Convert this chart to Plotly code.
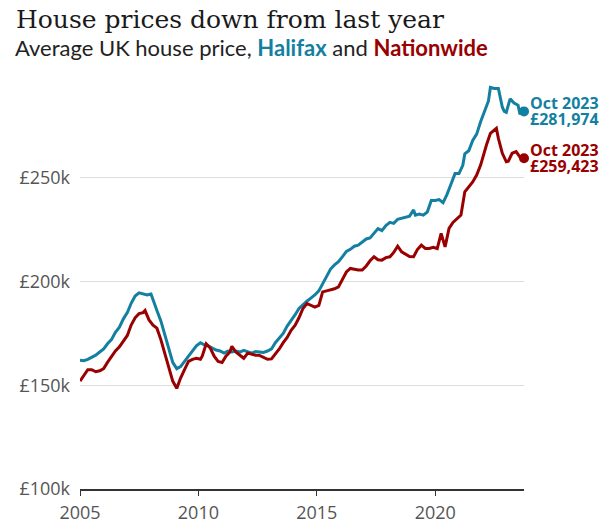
import plotly.graph_objects as go

# ---- data (values in £ thousands) ----
halifax_dates = ["2005-01","2005-03","2005-05","2005-07","2005-09","2005-11",
"2006-01","2006-03","2006-05","2006-07","2006-09","2006-11",
"2007-01","2007-03","2007-05","2007-07","2007-09","2007-11",
"2008-01","2008-02","2008-04","2008-06","2008-08","2008-10","2008-12",
"2009-02","2009-04","2009-06","2009-08","2009-10","2009-12",
"2010-02","2010-04","2010-06","2010-08","2010-10","2010-12",
"2011-02","2011-04","2011-06","2011-08","2011-10","2011-12",
"2012-02","2012-04","2012-06","2012-08","2012-10","2012-12",
"2013-02","2013-04","2013-06","2013-08","2013-10","2013-12",
"2014-02","2014-04","2014-06","2014-08","2014-10","2014-12",
"2015-02","2015-04","2015-06","2015-08","2015-10","2015-12",
"2016-02","2016-04","2016-06","2016-08","2016-10","2016-12",
"2017-02","2017-04","2017-06","2017-08","2017-10","2017-12",
"2018-02","2018-04","2018-06","2018-08","2018-10","2018-12",
"2019-02","2019-03","2019-05","2019-07","2019-09","2019-11",
"2020-01","2020-03","2020-05","2020-07","2020-09","2020-11",
"2021-01","2021-03","2021-04","2021-06","2021-08","2021-10","2021-12",
"2022-02","2022-04","2022-05","2022-07","2022-09","2022-10","2022-11","2022-12",
"2023-01","2023-02","2023-03","2023-05","2023-07","2023-08","2023-09","2023-10"]
halifax_values = [162.0,161.8,162.5,163.5,164.5,166,
167.5,170,172,175.5,178,182,
185,189.5,193,194.5,194,193.5,
194,191,186,181,174,167,161,
158,159,161.5,164,166.5,169,
170.5,169.5,169,168,167,166.5,
165.5,166.5,166,166.5,166,166.8,
166,165.5,166.2,166,165.8,166.5,
167.5,170.5,172.5,175,178.5,181,
184,187,189,190.5,192,193.5,
195.5,199,203,206,208,209.5,
212,214.5,215.5,217,217.5,219,
220.5,221,223,225.5,224.5,227,
228.5,228,230,230.5,231,231.5,
234.5,232,232.5,232,233.5,239,
239,239.5,238,242,247,252,
252,256,261.5,263,268,271,277,
282,287,293.5,293,293,288,284,282,
281.5,285,288,286,285,280.5,283,281.974]

nationwide_dates = ["2005-01","2005-03","2005-05","2005-07","2005-09","2005-11",
"2006-01","2006-03","2006-05","2006-07","2006-09","2006-11",
"2007-01","2007-03","2007-05","2007-07","2007-09","2007-10","2007-12",
"2008-02","2008-04","2008-06","2008-08","2008-10","2008-12",
"2009-02","2009-04","2009-06","2009-08","2009-10","2009-12",
"2010-02","2010-03","2010-05","2010-07","2010-09","2010-11",
"2011-01","2011-03","2011-05","2011-06","2011-08","2011-10","2011-12",
"2012-02","2012-04","2012-06","2012-08","2012-10","2012-12",
"2013-02","2013-04","2013-06","2013-08","2013-10","2013-12",
"2014-02","2014-04","2014-06","2014-08","2014-10","2014-12",
"2015-02","2015-04","2015-06","2015-08","2015-10","2015-12",
"2016-02","2016-04","2016-06","2016-08","2016-10","2016-12",
"2017-02","2017-04","2017-06","2017-08","2017-10","2017-12",
"2018-02","2018-04","2018-06","2018-08","2018-10","2018-12",
"2019-02","2019-04","2019-06","2019-08","2019-10","2019-12",
"2020-02","2020-04","2020-06","2020-08","2020-10","2020-12",
"2021-02","2021-04","2021-06","2021-08","2021-10","2021-12",
"2022-03","2022-05","2022-08","2022-09","2022-11",
"2023-01","2023-02","2023-04","2023-06","2023-08","2023-09","2023-10"]
nationwide_values = [152,155,157.5,157.5,156.5,157,
158,161,164,166.5,168.5,171.5,
174,179,182.5,184.5,185,186,181.5,
179,177.5,172,165,158,152,
148.5,153.5,157.5,161.5,162.5,163,
162.5,164,170,168,164,161.5,
161,164,166,168.8,166,164.5,163,
165.5,165,164.5,164.4,163.5,162.5,
162.7,165,167.5,170.5,173,176.5,
179,182.5,187,189.4,188.5,187.7,
188.5,195,195.5,196,196.5,197.4,
201,204.6,206.3,205.8,205.5,205.5,
207.5,210,211.9,210.5,210.3,211.5,
211.9,214,217,214.3,213,212,
211.9,215.4,217.5,215.9,215.9,216.5,
215.9,223.2,216.7,225.6,228.5,230.4,
232,243.2,245.7,248,251.3,256.1,
265.8,271.4,273.8,269,261.8,
257.7,258,261.8,262.6,259.9,260.5,259.423]

y_tickvals = [100, 150, 200, 250]
y_ticktext = ["£100k", "£150k", "£200k", "£250k"]
x_tickvals = ["2005-01-01", "2010-01-01", "2015-01-01", "2020-01-01"]
x_ticktext = ["2005", "2010", "2015", "2020"]

end_label = "Oct 2023"
halifax_end_text = "£281,974"
nationwide_end_text = "£259,423"

TEAL = "#1380A1"
RED = "#990000"

W, H = 613, 525
L, R, T, B = 80, 524, 74, 489


def px(xp):
    return (xp - L) / (R - L)


def py(yp):
    return (B - yp) / (B - T)


fig = go.Figure()
fig.add_trace(go.Scatter(x=halifax_dates, y=halifax_values, mode="lines",
                         line=dict(color=TEAL, width=3), hoverinfo="skip"))
fig.add_trace(go.Scatter(x=nationwide_dates, y=nationwide_values, mode="lines",
                         line=dict(color=RED, width=3), hoverinfo="skip"))
fig.add_trace(go.Scatter(x=[halifax_dates[-1]], y=[halifax_values[-1]], mode="markers",
                         marker=dict(color=TEAL, size=10), hoverinfo="skip", cliponaxis=False))
fig.add_trace(go.Scatter(x=[nationwide_dates[-1]], y=[nationwide_values[-1]], mode="markers",
                         marker=dict(color=RED, size=10), hoverinfo="skip", cliponaxis=False))

ann = []
for (dates, vals, txt, col) in [(halifax_dates, halifax_values, halifax_end_text, TEAL),
                                (nationwide_dates, nationwide_values, nationwide_end_text, RED)]:
    for t, ys in [(end_label, 8), (txt, -7.5)]:
        ann.append(dict(x=dates[-1], y=vals[-1], xref="x", yref="y", text="<b>" + t + "</b>",
                        showarrow=False, xanchor="left", yanchor="middle", xshift=4, yshift=ys,
                        font=dict(family="Open Sans", size=16, color=col)))

ann.append(dict(x=px(14), y=py(20), xref="paper", yref="paper",
                text="House prices down from last year", showarrow=False,
                xanchor="left", yanchor="middle",
                font=dict(family="DejaVu Serif", size=25, color="#1a1a1a")))
ann.append(dict(x=px(13), y=py(47), xref="paper", yref="paper",
                text="Average UK house price, <b><span style='color:%s'>Halifax</span></b> and "
                     "<b><span style='color:%s'>Nationwide</span></b>" % (TEAL, RED),
                showarrow=False, xanchor="left", yanchor="middle",
                font=dict(family="Lato", size=22, color="#222222")))

fig.update_layout(
    width=W, height=H,
    margin=dict(l=L, r=W - R, t=T, b=H - B, pad=0),
    paper_bgcolor="white", plot_bgcolor="white",
    showlegend=False,
    annotations=ann,
    xaxis=dict(type="date", range=["2005-01-01", "2023-10-01"],
               tickvals=x_tickvals, ticktext=x_ticktext,
               showgrid=False, zeroline=False, automargin=False,
               showline=True, linecolor="#333333", linewidth=2,
               ticks="outside", ticklen=5, tickcolor="#333333", tickwidth=1,
               ticklabelstandoff=1,
               tickfont=dict(family="Open Sans", size=18, color="#555555")),
    yaxis=dict(range=[100, 300], tickvals=y_tickvals, ticktext=y_ticktext,
               showgrid=True, gridcolor="#dddddd", gridwidth=1,
               zeroline=False, showline=False, ticks="", automargin=False,
               ticklabelstandoff=9,
               tickfont=dict(family="Open Sans", size=18, color="#555555")),
)

fig.write_html("out.html", config={"displayModeBar": False},
               post_script="document.body.style.margin='0';document.body.style.overflow='hidden';")
